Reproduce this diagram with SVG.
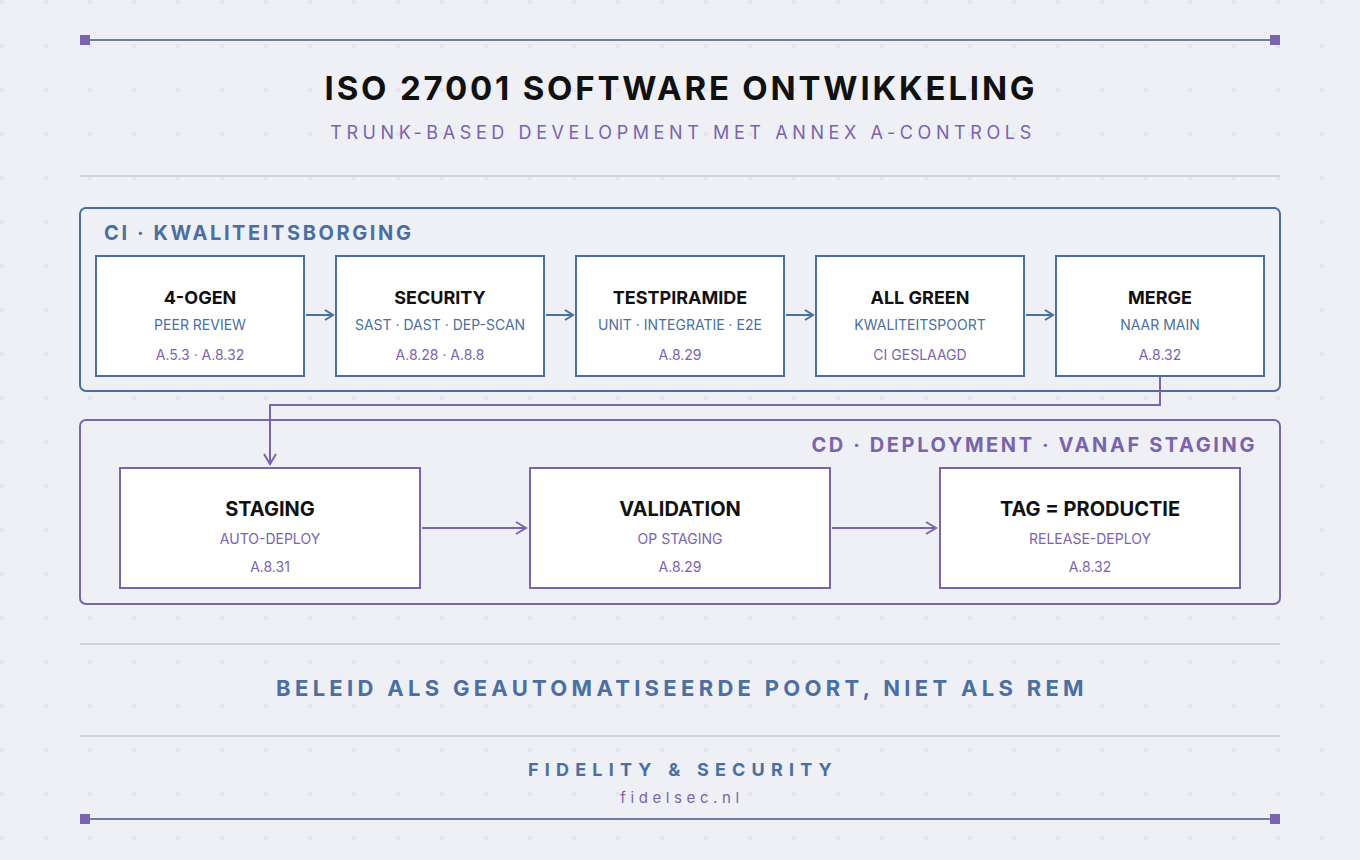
<svg xmlns="http://www.w3.org/2000/svg" width="1360" height="860" viewBox="0 0 1360 860">
<defs>
<pattern id="dots" x="0" y="0" width="44" height="44" patternUnits="userSpaceOnUse">
<rect x="0" y="0" width="4" height="4" fill="#e3e6ee"/>
</pattern>
<marker id="ab" viewBox="0 0 12 12" refX="10" refY="6" markerWidth="12" markerHeight="12" markerUnits="userSpaceOnUse" orient="auto">
<path d="M2,1 L10,6 L2,11" fill="none" stroke="#4a6fa0" stroke-width="2"/>
</marker>
<marker id="ap" viewBox="0 0 14 14" refX="12" refY="7" markerWidth="14" markerHeight="14" markerUnits="userSpaceOnUse" orient="auto">
<path d="M2,1 L12,7 L2,13" fill="none" stroke="#7b63ad" stroke-width="2"/>
</marker>
</defs>
<style>
text{font-family:Inter,"Liberation Sans",sans-serif;text-anchor:middle}
.t{font-size:18px;font-weight:700;fill:#111}
.tb{font-size:20px;font-weight:700;fill:#111}
.sb{font-size:14px;fill:#4a6fa0}
.sp{font-size:14px;fill:#7b63ad}
.node{fill:#fff;stroke-width:2}
.ci .node{stroke:#4a6fa0}
.cd .node{stroke:#7b63ad}
.sep{stroke:#cfd3dc;stroke-width:2}
</style>
<rect width="1360" height="860" fill="#eef0f5"/>
<rect width="1360" height="860" fill="url(#dots)"/>
<g id="frame">
<line x1="85" y1="40" x2="1275" y2="40" stroke="#6b7fa8" stroke-width="2"/>
<rect x="80" y="35" width="10" height="10" fill="#7b63ad"/>
<rect x="1270" y="35" width="10" height="10" fill="#7b63ad"/>
<line x1="85" y1="819" x2="1275" y2="819" stroke="#6b7fa8" stroke-width="2"/>
<rect x="80" y="814" width="10" height="10" fill="#7b63ad"/>
<rect x="1270" y="814" width="10" height="10" fill="#7b63ad"/>
<line class="sep" x1="80" y1="176" x2="1280" y2="176"/>
<line class="sep" x1="80" y1="644" x2="1280" y2="644"/>
<line class="sep" x1="80" y1="736" x2="1280" y2="736"/>
</g>
<g id="header">
<text x="681" y="100" style="font-size:33px;font-weight:700;fill:#111;letter-spacing:2.8px">ISO 27001 SOFTWARE ONTWIKKELING</text>
<text x="683" y="139" style="font-size:18px;fill:#7b63ad;letter-spacing:4.6px">TRUNK-BASED DEVELOPMENT MET ANNEX A-CONTROLS</text>
</g>
<g id="ci-group" class="ci">
<rect x="80" y="208" width="1200" height="183" rx="6" fill="#eef0f6" stroke="#4a6fa0" stroke-width="2"/>
<text x="104" y="240" style="text-anchor:start;font-size:20px;font-weight:700;fill:#4a6fa0;letter-spacing:2.6px">CI · KWALITEITSBORGING</text>
<g id="n-4ogen"><rect class="node" x="96" y="256" width="208" height="120"/><text class="t" x="200" y="304">4-OGEN</text><text class="sb" x="200" y="330">PEER REVIEW</text><text class="sp" x="200" y="360">A.5.3 · A.8.32</text></g>
<g id="n-security"><rect class="node" x="336" y="256" width="208" height="120"/><text class="t" x="440" y="304">SECURITY</text><text class="sb" x="440" y="330">SAST · DAST · DEP-SCAN</text><text class="sp" x="440" y="360">A.8.28 · A.8.8</text></g>
<g id="n-test"><rect class="node" x="576" y="256" width="208" height="120"/><text class="t" x="680" y="304">TESTPIRAMIDE</text><text class="sb" x="680" y="330">UNIT · INTEGRATIE · E2E</text><text class="sp" x="680" y="360">A.8.29</text></g>
<g id="n-green"><rect class="node" x="816" y="256" width="208" height="120"/><text class="t" x="920" y="304">ALL GREEN</text><text class="sb" x="920" y="330">KWALITEITSPOORT</text><text class="sp" x="920" y="360">CI GESLAAGD</text></g>
<g id="n-merge"><rect class="node" x="1056" y="256" width="208" height="120"/><text class="t" x="1160" y="304">MERGE</text><text class="sb" x="1160" y="330">NAAR MAIN</text><text class="sp" x="1160" y="360">A.8.32</text></g>
</g>
<g id="cd-group" class="cd">
<rect x="80" y="420" width="1200" height="184" rx="6" fill="#eef0f6" stroke="#7b63ad" stroke-width="2"/>
<text x="1257" y="452" style="text-anchor:end;font-size:20px;font-weight:700;fill:#7b63ad;letter-spacing:2.6px">CD · DEPLOYMENT · VANAF STAGING</text>
<g id="n-staging"><rect class="node" x="120" y="468" width="300" height="120"/><text class="tb" x="270" y="516">STAGING</text><text class="sp" x="270" y="544">AUTO-DEPLOY</text><text class="sp" x="270" y="572">A.8.31</text></g>
<g id="n-validation"><rect class="node" x="530" y="468" width="300" height="120"/><text class="tb" x="680" y="516">VALIDATION</text><text class="sp" x="680" y="544">OP STAGING</text><text class="sp" x="680" y="572">A.8.29</text></g>
<g id="n-prod"><rect class="node" x="940" y="468" width="300" height="120"/><text class="tb" x="1090" y="516">TAG = PRODUCTIE</text><text class="sp" x="1090" y="544">RELEASE-DEPLOY</text><text class="sp" x="1090" y="572">A.8.32</text></g>
</g>
<g id="connectors" fill="none" stroke-width="2">
<line x1="306" y1="315" x2="333" y2="315" stroke="#4a6fa0" marker-end="url(#ab)"/>
<line x1="546" y1="315" x2="573" y2="315" stroke="#4a6fa0" marker-end="url(#ab)"/>
<line x1="786" y1="315" x2="813" y2="315" stroke="#4a6fa0" marker-end="url(#ab)"/>
<line x1="1026" y1="315" x2="1053" y2="315" stroke="#4a6fa0" marker-end="url(#ab)"/>
<path d="M1160,377 V405 H270 V464" stroke="#7b63ad" marker-end="url(#ap)"/>
<line x1="422" y1="528" x2="526" y2="528" stroke="#7b63ad" marker-end="url(#ap)"/>
<line x1="832" y1="528" x2="936" y2="528" stroke="#7b63ad" marker-end="url(#ap)"/>
</g>
<g id="footer">
<text x="682" y="696" style="font-size:22px;font-weight:700;fill:#4a6fa0;letter-spacing:4.3px">BELEID ALS GEAUTOMATISEERDE POORT, NIET ALS REM</text>
<text x="683" y="776" style="font-size:18px;font-weight:700;fill:#4a6fa0;letter-spacing:6.2px">FIDELITY &amp; SECURITY</text>
<text x="682" y="803" style="font-size:15px;fill:#7b63ad;letter-spacing:4.6px">fidelsec.nl</text>
</g>
</svg>
